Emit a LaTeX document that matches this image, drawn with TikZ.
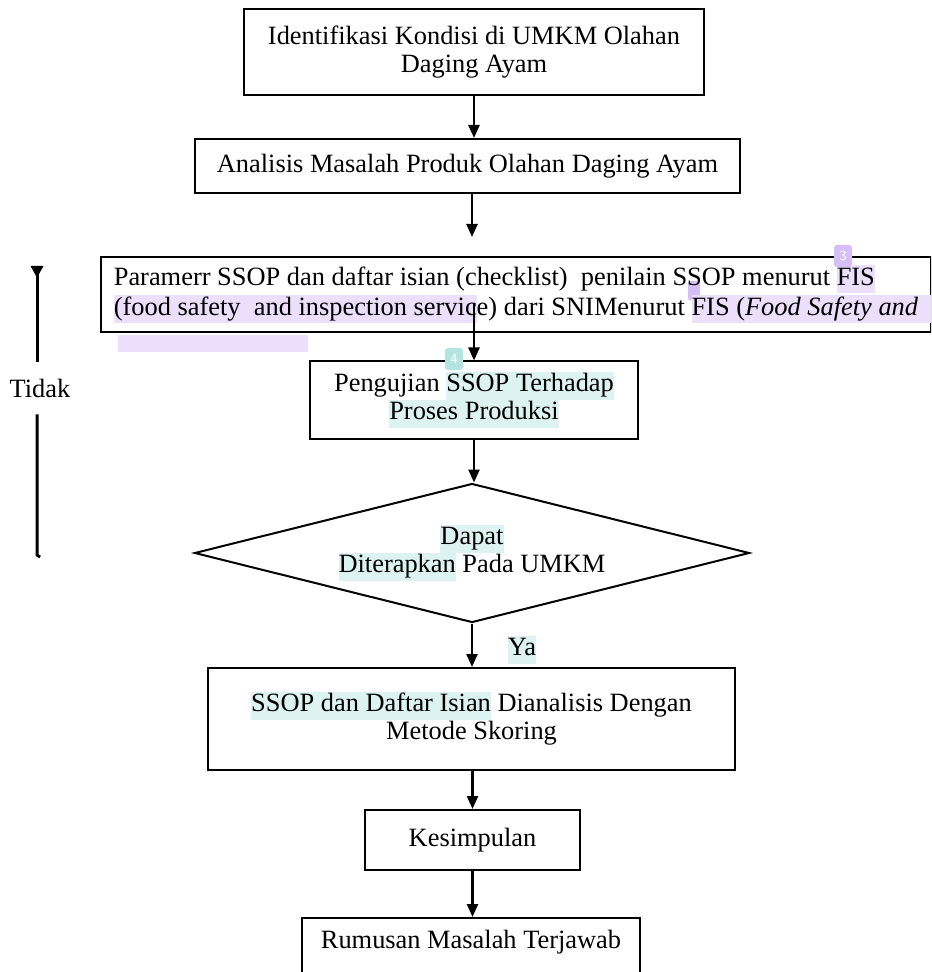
\documentclass[12pt,tikz,border=0pt]{standalone}
\usepackage{fontspec}
\setmainfont{Liberation Serif}
\usetikzlibrary{arrows.meta,shapes.geometric}
\definecolor{hlpurple}{RGB}{236,223,251}
\definecolor{tagpurple}{RGB}{214,190,246}
\definecolor{hlcyan}{RGB}{221,243,241}
\definecolor{tagcyan}{RGB}{178,228,224}
\newcommand{\hlp}[1]{{\setlength{\fboxsep}{0pt}\colorbox{hlpurple}{\strut #1}}}
\newcommand{\hlc}[1]{{\setlength{\fboxsep}{0pt}\colorbox{hlcyan}{\strut #1}}}
\begin{document}
\begin{tikzpicture}[x=0.5pt,y=-0.5pt,
  every node/.style={font=\fontsize{13.2}{14}\selectfont},
  box/.style={draw,line width=1pt,align=center,inner sep=4pt},
  ifbox/.style={draw,diamond,line width=1pt,align=center,aspect=4,inner sep=2pt,
    minimum width=277.5pt,minimum height=69.5pt},
  arr/.style={line width=1.2pt,-{Triangle[width=5.5pt,length=6.5pt]}},
  tag/.style={rounded corners=1.5pt,minimum width=9pt,minimum height=11pt,inner sep=0pt,
    text=white,font=\sffamily\fontsize{7}{7}\selectfont},
]
\useasboundingbox (0,0) rectangle (931,972);
\clip (0,0) rectangle (931,972);
\fill[hlpurple] (118,335) rectangle (308,352);
\fill[tagpurple,rounded corners=1pt] (688,281) rectangle (700,300);

\node[box,minimum width=230pt,minimum height=43pt] (ident) at (474,52)
  {Identifikasi Kondisi di UMKM Olahan\\Daging Ayam};
\node[box,minimum width=272.5pt,minimum height=27pt] (analisis) at (467.5,166)
  {Analisis Masalah Produk Olahan Daging Ayam};
\node[box,anchor=west,align=left,minimum width=415pt,minimum height=37.5pt] (param) at (100,294.5)
  {Paramerr SSOP dan daftar isian (checklist)\ \ penilain SSOP menurut \hlp{FIS}\\
   \hlp{(food safety\ \ and inspection servic}e) dari SNIMenurut \hlp{FIS (\textit{Food Safety and}}\rlap{\textcolor{hlpurple}{\rule[-4.2pt]{7pt}{14pt}}}};
\node[box,minimum width=164pt,minimum height=38.5pt] (uji) at (474,400)
  {Pengujian \hlc{SSOP Terhadap}\\\hlc{Proses Produksi}};
\node[ifbox] (terap) at (472,553) {\hlc{Dapat}\\\hlc{Diterapkan} Pada UMKM};
\node[box,minimum width=263.5pt,minimum height=51pt] (skor) at (471.5,719)
  {\hlc{SSOP dan Daftar Isian} Dianalisis Dengan\\Metode Skoring};
\node[box,minimum width=107.5pt,minimum height=30pt] (simpul) at (472.5,840) {Kesimpulan};
\node[box,anchor=north,minimum width=169pt,text height=11pt,text depth=20pt] (jawab) at (471,917)
  {Rumusan Masalah Terjawab};
\node[minimum height=26pt,inner sep=0pt] (tidak) at (40,388) {Tidak};
\node (ya) at (522,650) {\hlc{Ya}};

\coordinate (buntu) at (472,237);
\coordinate (lewat) at (474,303);
\coordinate (tidakatas) at (37,266);
\coordinate (tidakbawah) at (37,555);

\draw[arr] (ident.south) -- (ident.south |- analisis.north);
\draw[arr] (analisis.south -| buntu) -- (buntu);
\draw[arr] (lewat) -- (lewat |- uji.north);
\draw[arr] (uji.south) -- (uji.south |- terap.north);
\draw[arr] (terap.south) -- (terap.south |- skor.north);
\draw[arr] (skor.south -| simpul.north) -- (simpul.north);
\draw[arr] (simpul.south) -- (simpul.south |- jawab.north);
\draw[line width=1.5pt,{Triangle[reversed,width=6pt,length=6pt]}-] (tidakatas) -- (tidakatas |- tidak.north);
\draw[line width=1.5pt] (tidakatas |- tidak.south) -- (tidakbawah) -- ++(3,2);

\node[tag,fill=tagpurple] (tag3) at (843,256) {3};
\node[tag,fill=tagcyan] (tag4) at (454,359) {4};
\end{tikzpicture}
\end{document}
